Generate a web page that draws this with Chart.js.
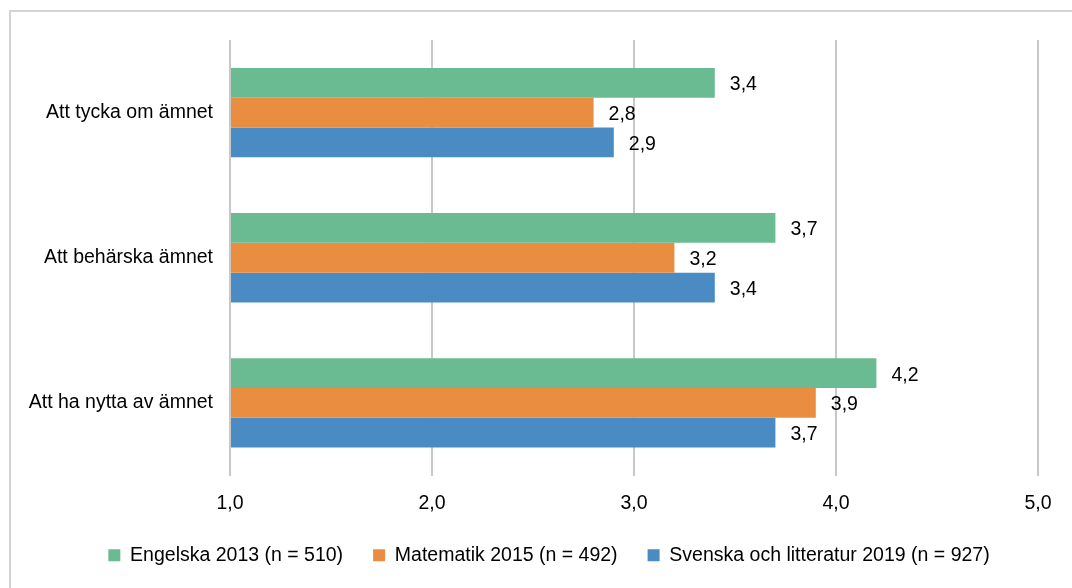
<!DOCTYPE html>
<html>
<head>
<meta charset="utf-8">
<script src="https://cdn.jsdelivr.net/npm/chart.js@4"></script>
<style>
    body { margin: 0; background: #fff; overflow: hidden; }
    #frame { position: absolute; left: 9px; top: 10px; width: 1200px; height: 700px; border: 2px solid #d4d4d4; }
    #wrap { position: absolute; left: 0; top: 0; width: 1072px; height: 588px; }
</style>
</head>
<body>
<div id="frame"></div>
<div id="wrap"><canvas id="myChart"></canvas></div>
<script>
'use strict'

var categories = ['Att tycka om ämnet', 'Att behärska ämnet', 'Att ha nytta av ämnet'];
var engelska = [3.4, 3.7, 4.2];
var matematik = [2.8, 3.2, 3.9];
var svenska = [2.9, 3.4, 3.7];
var seriesNames = ['Engelska 2013 (n = 510)', 'Matematik 2015 (n = 492)', 'Svenska och litteratur 2019 (n = 927)'];
var xTicks = [1, 2, 3, 4, 5];

var fontFamily = '"Liberation Sans", Arial, sans-serif';

function comma(v) {
    return Number(v).toFixed(1).replace('.', ',');
}

Chart.defaults.font.family = fontFamily;
Chart.defaults.font.size = 19.5;
Chart.defaults.color = '#000';

// value labels to the right of each bar
var barLabels = {
    id: 'barLabels',
    afterDatasetsDraw: function (chart) {
        var ctx = chart.ctx;
        ctx.save();
        ctx.font = '19.5px ' + fontFamily;
        ctx.fillStyle = '#000';
        ctx.textAlign = 'left';
        ctx.textBaseline = 'middle';
        chart.data.datasets.forEach(function (ds, i) {
            chart.getDatasetMeta(i).data.forEach(function (el, j) {
                ctx.fillText(comma(ds.data[j]), el.x + 15, el.y + 2);
            });
        });
        ctx.restore();
    }
};

// legend sits a bit right of the canvas centre in the original
var legendShift = {
    id: 'legendShift',
    afterLayout: function (chart) {
        chart.legend.left += 30;
        chart.legend.right += 30;
    }
};

var ctx = document.getElementById('myChart').getContext('2d');

var chart = new Chart(ctx, {
    type: 'bar',
    data: {
        labels: categories,
        datasets: [{
                label: seriesNames[0],
                backgroundColor: '#6abb91',
                data: engelska
        },
            {
                label: seriesNames[1],
                backgroundColor: '#e98e40',
                data: matematik
        },
            {
                label: seriesNames[2],
                backgroundColor: '#4a8bc3',
                data: svenska
        }]
    },
    plugins: [barLabels, legendShift],
    options: {
        indexAxis: 'y',
        responsive: true,
        maintainAspectRatio: false,
        animation: false,
        base: 1,
        barPercentage: 1,
        categoryPercentage: 0.615,
        layout: {
            padding: { top: 40, left: 0, right: 34, bottom: 13 }
        },
        scales: {
            x: {
                min: 1,
                max: 5,
                afterBuildTicks: function (scale) {
                    scale.ticks = xTicks.map(function (v) { return { value: v }; });
                },
                ticks: {
                    padding: 16,
                    callback: function (v) { return comma(v); }
                },
                grid: {
                    color: '#c8c8c8',
                    lineWidth: 2,
                    drawTicks: false
                },
                border: { display: false },
                afterFit: function (scale) { scale.height = 40; }
            },
            y: {
                ticks: { padding: 9 },
                grid: { display: false },
                border: { display: false },
                afterFit: function (scale) { scale.width = 230; }
            }
        },
        plugins: {
            tooltip: { enabled: false },
            legend: {
                position: 'bottom',
                labels: {
                    boxWidth: 12,
                    boxHeight: 12,
                    padding: 30
                }
            }
        }
    }
});
</script>
</body>
</html>
